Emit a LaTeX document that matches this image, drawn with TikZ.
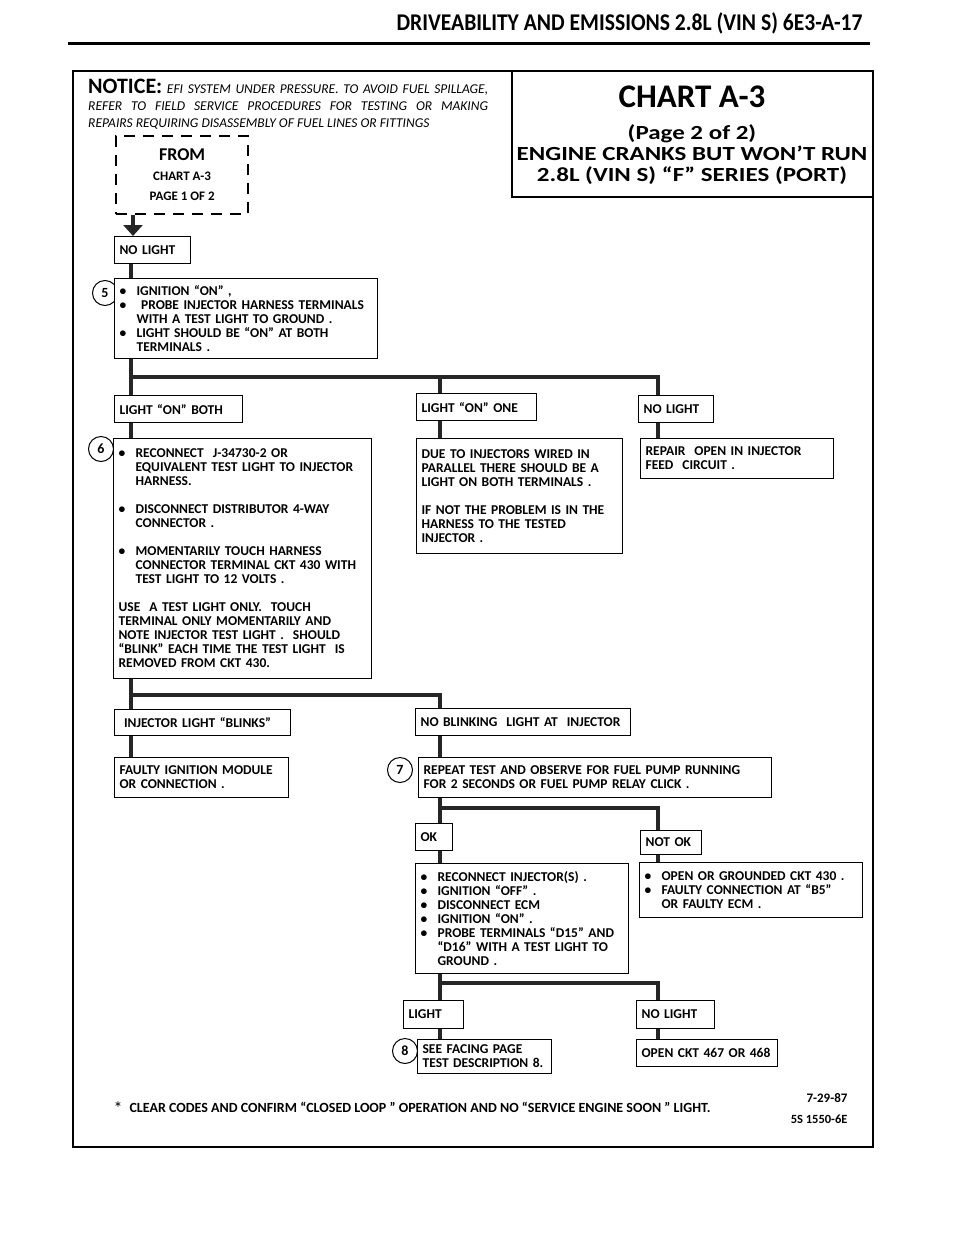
\documentclass[tikz,border=0pt]{standalone}
\usepackage{fontspec}
\setmainfont{Carlito}
\newfontfamily\headfont[FakeStretch=0.9]{Carlito}
\newfontfamily\titlefont[FakeStretch=1.25]{Carlito}
\usetikzlibrary{positioning,arrows.meta}

\newcommand{\itm}{\makebox[17pt][l]{\textbullet}}
\newcommand{\cnt}{\hspace*{17pt}}

\begin{document}
\begin{tikzpicture}[x=1pt, y=-1pt,
  box/.style={draw, line width=1.2pt, fill=white, anchor=north west,
    align=left, inner xsep=5pt, inner ysep=3pt,
    font=\bfseries\fontsize{13.5}{14}\selectfont},
  link/.style={line width=3.8pt, draw=black!85},
  stepnum/.style={circle, draw, line width=1pt, minimum size=25pt, inner sep=0pt,
    font=\bfseries\fontsize{14}{14}\selectfont}]
\useasboundingbox (0,0) rectangle (960,1237);

% page heading and frame
\node[anchor=base east, font=\headfont\bfseries\fontsize{24}{26}\selectfont]
  (heading) at (866,30) {DRIVEABILITY AND EMISSIONS 2.8L (VIN S) 6E3-A-17};
\draw[line width=3pt] (68,43) -- (870,43);
\draw[line width=2.4pt] (73,71) rectangle (873,1147);
\draw[line width=1.6pt] (512,71) -- (512,197) -- (873,197);

% notice and chart title
\node[anchor=north west, text width=400, align=justify, inner sep=0pt,
  font=\itshape\fontsize{13.5}{17}\selectfont] (notice) at (88,79)
  {{\upshape\bfseries\fontsize{22}{17}\selectfont NOTICE:} EFI SYSTEM UNDER PRESSURE. TO AVOID FUEL SPILLAGE,\linebreak
   REFER TO FIELD SERVICE PROCEDURES FOR TESTING OR MAKING\linebreak
   REPAIRS REQUIRING DISASSEMBLY OF FUEL LINES OR FITTINGS};
\node[anchor=base, font=\bfseries\fontsize{33}{36}\selectfont] (chart) at (692,107) {CHART A-3};
\node[anchor=north, align=center, inner sep=0pt,
  font=\titlefont\bfseries\fontsize{20}{21}\selectfont] (title) at (692,124)
  {(Page 2 of 2)\\ENGINE CRANKS BUT WON’T RUN\\2.8L (VIN S) “F” SERIES (PORT)};

% step numbers
\foreach \n/\x/\y in {5/105/293, 6/101/449, 7/400/770, 8/405/1051}
  \node[stepnum] (num-\n) at (\x,\y) {\n};

% boxes
\node[draw, line width=2.2pt, dash pattern=on 11pt off 8pt, anchor=north west,
  minimum width=132, minimum height=78, align=center,
  font=\bfseries\fontsize{13}{20}\selectfont] (from-chart) at (115,135)
  {{\fontsize{18}{20}\selectfont FROM}\\CHART A-3\\PAGE 1 OF 2};
\node[box, text width=66, minimum height=27] (no-light-1) at (114,236) {NO LIGHT};
\node[box, text width=253, minimum height=80] (step-5) at (114,278)
  {\itm IGNITION “ON” ,\\
   \itm \ PROBE INJECTOR HARNESS TERMINALS\\
   \cnt WITH A TEST LIGHT TO GROUND .\\
   \itm LIGHT SHOULD BE “ON” AT BOTH\\
   \cnt TERMINALS .};
\node[box, text width=118, minimum height=27] (on-both) at (114,395) {LIGHT “ON” BOTH};
\node[box, text width=110, minimum height=27] (on-one) at (416,393) {LIGHT “ON” ONE};
\node[box, text width=65, minimum height=27] (no-light-2) at (638,395) {NO LIGHT};
\node[box, text width=248, minimum height=240] (step-6) at (113,438)
  {\itm RECONNECT \ J-34730-2 OR\\
   \cnt EQUIVALENT TEST LIGHT TO INJECTOR\\
   \cnt HARNESS.\\[14pt]
   \itm DISCONNECT DISTRIBUTOR 4-WAY\\
   \cnt CONNECTOR .\\[14pt]
   \itm MOMENTARILY TOUCH HARNESS\\
   \cnt CONNECTOR TERMINAL CKT 430 WITH\\
   \cnt TEST LIGHT TO 12 VOLTS .\\[14pt]
   USE \ A TEST LIGHT ONLY. \ TOUCH\\
   TERMINAL ONLY MOMENTARILY AND\\
   NOTE INJECTOR TEST LIGHT . \ SHOULD\\
   “BLINK” EACH TIME THE TEST LIGHT \ IS\\
   REMOVED FROM CKT 430.};
\node[box, text width=196, minimum height=115] (parallel) at (416,438)
  {DUE TO INJECTORS WIRED IN\\
   PARALLEL THERE SHOULD BE A\\
   LIGHT ON BOTH TERMINALS .\\[14pt]
   IF NOT THE PROBLEM IS IN THE\\
   HARNESS TO THE TESTED\\
   INJECTOR .};
\node[box, text width=183, minimum height=40] (repair) at (640,438)
  {REPAIR \ OPEN IN INJECTOR\\FEED \ CIRCUIT .};
\node[box, text width=166, minimum height=26] (blinks) at (114,709) {\ INJECTOR LIGHT “BLINKS”};
\node[box, text width=205, minimum height=27] (no-blink) at (415,708) {NO BLINKING \ LIGHT AT \ INJECTOR};
\node[box, text width=164, minimum height=40] (faulty) at (114,757)
  {FAULTY IGNITION MODULE\\OR CONNECTION .};
\node[box, text width=343, minimum height=40] (step-7) at (418,757)
  {REPEAT TEST AND OBSERVE FOR FUEL PUMP RUNNING\\FOR 2 SECONDS OR FUEL PUMP RELAY CLICK .};
\node[box, text width=27, minimum height=27] (ok) at (415,823) {OK};
\node[box, text width=51, minimum height=24] (not-ok) at (640,830) {NOT OK};
\node[box, text width=203, minimum height=110] (ok-list) at (415,863)
  {\itm RECONNECT INJECTOR(S) .\\
   \itm IGNITION “OFF” .\\
   \itm DISCONNECT ECM\\
   \itm IGNITION “ON” .\\
   \itm PROBE TERMINALS “D15” AND\\
   \cnt “D16” WITH A TEST LIGHT TO\\
   \cnt GROUND .};
\node[box, text width=213, minimum height=55] (not-ok-list) at (639,862)
  {\itm OPEN OR GROUNDED CKT 430 .\\
   \itm FAULTY CONNECTION AT “B5”\\
   \cnt OR FAULTY ECM .};
\node[box, text width=50, minimum height=28] (light) at (403,1000) {LIGHT};
\node[box, text width=124, minimum height=34] (facing) at (417,1039)
  {SEE FACING PAGE\\TEST DESCRIPTION 8.};
\node[box, text width=68, minimum height=28] (no-light-3) at (636,1000) {NO LIGHT};
\node[box, text width=131, minimum height=27] (open-ckt) at (636,1039) {OPEN CKT 467 OR 468};

% flow lines
\coordinate (col-a) at (131,0);
\coordinate (col-b) at (440,0);
\coordinate (col-c) at (658,0);
\coordinate (bar-1) at (131,377);
\coordinate (bar-2) at (131,695);
\coordinate (bar-3) at (440,808);
\coordinate (bar-4) at (440,983);

\draw[link, -{Triangle[width=19pt,length=11pt]}] (from-chart.south -| 133,0)
  -- (no-light-1.north -| 133,0);

\foreach \a/\b in {no-light-1/step-5, step-5/on-both, on-both/step-6,
                   step-6/blinks, blinks/faulty}
  \draw[link] (\a.south -| col-a) -- (\b.north -| col-a);

\foreach \a/\b in {on-one/parallel, no-blink/step-7, step-7/ok,
                   ok/ok-list, ok-list/light, light/facing}
  \draw[link] (\a.south -| col-b) -- (\b.north -| col-b);

\foreach \a/\b in {no-light-2/repair, not-ok/not-ok-list, no-light-3/open-ckt}
  \draw[link] (\a.south -| col-c) -- (\b.north -| col-c);

\draw[link] (bar-1) -| (on-one.north -| col-b);
\draw[link] (bar-1) -| (no-light-2.north -| col-c);
\draw[link] (bar-2) -| (no-blink.north -| col-b);
\draw[link] (bar-3) -| (not-ok.north -| col-c);
\draw[link] (bar-4) -| (no-light-3.north -| col-c);

% footnote
\node[anchor=base west, font=\fontsize{18}{18}\selectfont] (star) at (110,1114) {*};
\node[anchor=base west, font=\bfseries\fontsize{14}{14}\selectfont] (clear) at (126,1112)
  {CLEAR CODES AND CONFIRM “CLOSED LOOP ” OPERATION AND NO “SERVICE ENGINE SOON ” LIGHT.};
\node[anchor=base east, font=\bfseries\fontsize{13}{14}\selectfont] (date) at (851,1102) {7-29-87};
\node[anchor=base east, font=\bfseries\fontsize{12.5}{14}\selectfont] (code) at (851,1123) {5S 1550-6E};
\end{tikzpicture}
\end{document}
